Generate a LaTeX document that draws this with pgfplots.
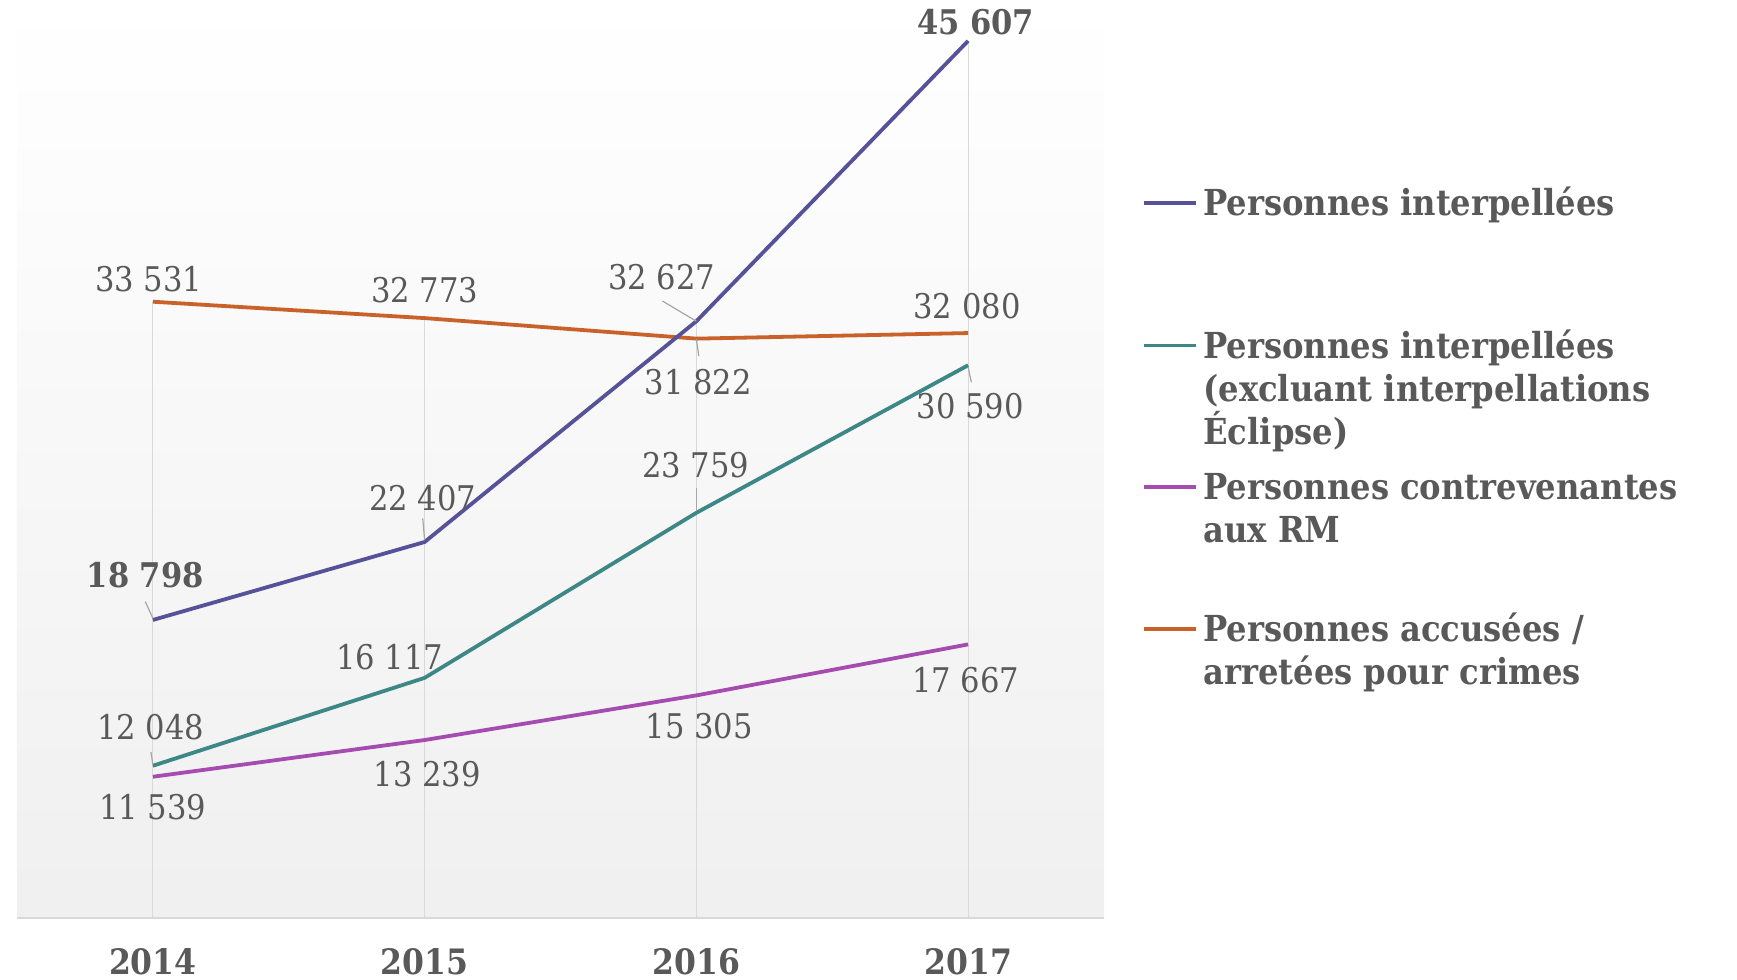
\documentclass[border=0pt]{standalone}
\usepackage{pgfplots}
\pgfplotsset{compat=1.18}
\usepackage{fontspec}
\setmainfont{DejaVu Serif Condensed}
\definecolor{cpurple}{HTML}{55529A}
\definecolor{cteal}{HTML}{3E8787}
\definecolor{cmag}{HTML}{A64CB0}
\definecolor{corange}{HTML}{C9622A}
\definecolor{txt}{HTML}{595959}
\definecolor{lead}{HTML}{A6A6A6}
\definecolor{gridc}{HTML}{D9D9D9}
\tikzset{lbl/.style={text=txt, font=\fontsize{17}{20}\selectfont, inner sep=0pt},
         blbl/.style={text=txt, font=\fontsize{17}{20}\selectfont\bfseries, inner sep=0pt}}
\begin{document}
\begin{tikzpicture}
\useasboundingbox (0,0) rectangle (868.5pt,490pt);
\begin{axis}[
  at={(8.5pt,31pt)}, anchor=south west,
  scale only axis, width=543.5pt, height=459pt,
  xmin=-0.5, xmax=3.5, ymin=5000, ymax=47500,
  axis y line=none, axis x line*=bottom,
  x axis line style={draw=gridc, line width=0.8pt, -},
  xtick={0,1,2,3}, xticklabels={2014,2015,2016,2017},
  major tick length=0pt,
  xticklabel style={anchor=center, yshift=-22pt, font=\fontsize{17.5}{20}\selectfont\bfseries, text=txt},
  axis background/.style={shade, top color=white, bottom color=black!6},
  clip mode=individual,
]
% drop lines
\addplot[ycomb, draw=gridc, line width=0.6pt, mark=none] coordinates {(0,33531) (1,32773) (2,32627) (3,45607)};
% series
\addplot[corange, line width=1.9pt, mark=none] coordinates {(0,33531) (1,32773) (2,31822) (3,32080)};
\addplot[cmag, line width=1.9pt, mark=none] coordinates {(0,11539) (1,13239) (2,15305) (3,17667)};
\addplot[cteal, line width=1.9pt, mark=none] coordinates {(0,12048) (1,16117) (2,23759) (3,30590)};
\addplot[cpurple, line width=1.9pt, mark=none] coordinates {(0,18798) (1,22407) (2,32627) (3,45607)};
% leader lines
\draw[lead, line width=0.6pt] (axis cs:-0.028,19646) -- (axis cs:0,18876);
\draw[lead, line width=0.6pt] (axis cs:0.993,23500) -- (axis cs:1,22500);
\draw[lead, line width=0.6pt] (axis cs:1.875,33566) -- (axis cs:2,32627);
\draw[lead, line width=0.6pt] (axis cs:-0.007,12678) -- (axis cs:0,12100);
\draw[lead, line width=0.6pt] (axis cs:2,24900) -- (axis cs:2,23850);
\draw[lead, line width=0.6pt] (axis cs:3,30500) -- (axis cs:3.012,29805);
\draw[lead, line width=0.6pt] (axis cs:2,31800) -- (axis cs:2.009,31016);
% labels
\node[blbl] at (axis cs:-0.028,20877) {18 798};
\node[lbl] at (axis cs:0.993,24417) {22 407};
\node[lbl] at (axis cs:1.872,34679) {32 627};
\node[blbl] at (axis cs:3.028,46480) {45 607};
\node[lbl] at (axis cs:-0.008,13848) {12 048};
\node[lbl] at (axis cs:0.871,17080) {16 117};
\node[lbl] at (axis cs:1.998,25957) {23 759};
\node[lbl] at (axis cs:3.008,28676) {30 590};
\node[lbl] at (axis cs:0,10154) {11 539};
\node[lbl] at (axis cs:1.009,11642) {13 239};
\node[lbl] at (axis cs:2.01,13899) {15 305};
\node[lbl] at (axis cs:2.991,16003) {17 667};
\node[lbl] at (axis cs:-0.016,34577) {33 531};
\node[lbl] at (axis cs:1.001,34063) {32 773};
\node[lbl] at (axis cs:2.007,29805) {31 822};
\node[lbl] at (axis cs:2.996,33345) {32 080};
\end{axis}
% legend
\begin{scope}[every node/.style={text=txt, font=\fontsize{17.9}{20}\selectfont\bfseries, anchor=base west, inner sep=0pt}]
\draw[cpurple, line width=1.9pt] (572pt,388.6pt) -- (598pt,388.6pt);
\node at (601.5pt,382.3pt) {Personnes interpellées};
\draw[cteal, line width=1.9pt] (572pt,317.2pt) -- (598pt,317.2pt);
\node at (601.5pt,310.9pt) {Personnes interpellées};
\node at (601.5pt,289.4pt) {(excluant interpellations};
\node at (601.5pt,267.9pt) {Éclipse)};
\draw[cmag, line width=1.9pt] (572pt,246.3pt) -- (598pt,246.3pt);
\node at (601.5pt,240.0pt) {Personnes contrevenantes};
\node at (601.5pt,218.5pt) {aux RM};
\draw[corange, line width=1.9pt] (572pt,175.4pt) -- (598pt,175.4pt);
\node at (601.5pt,169.1pt) {Personnes accusées /};
\node at (601.5pt,147.6pt) {arretées pour crimes};
\end{scope}
\end{tikzpicture}
\end{document}
